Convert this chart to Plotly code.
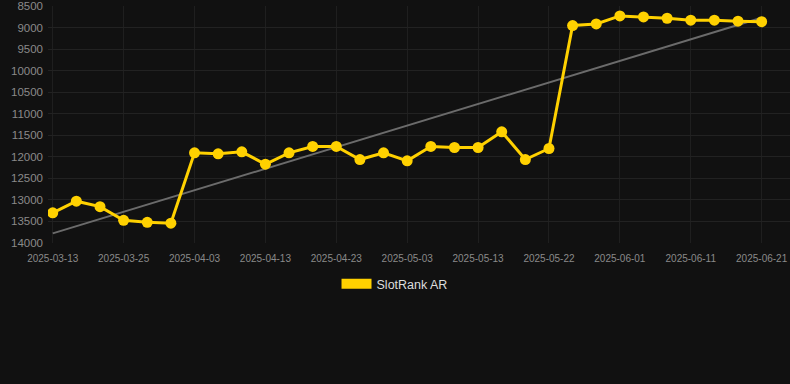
import numpy as np
import plotly.graph_objects as go

dates = ["2025-03-13", "2025-03-17", "2025-03-21", "2025-03-25", "2025-03-28", "2025-03-31",
         "2025-04-03", "2025-04-06", "2025-04-09", "2025-04-13", "2025-04-16", "2025-04-19",
         "2025-04-23", "2025-04-26", "2025-04-29", "2025-05-03", "2025-05-06", "2025-05-09",
         "2025-05-13", "2025-05-16", "2025-05-19", "2025-05-22", "2025-05-25", "2025-05-28",
         "2025-06-01", "2025-06-04", "2025-06-07", "2025-06-11", "2025-06-14", "2025-06-17",
         "2025-06-21"]
ranks = [13300, 13030, 13156, 13474, 13520, 13540,
         11907, 11930, 11884, 12172, 11907, 11760,
         11760, 12063, 11907, 12093, 11760, 11784,
         11784, 11419, 12063, 11807, 8953, 8916,
         8730, 8753, 8784, 8830, 8830, 8853,
         8865]
tick_labels = dates[::3]
y_ticks = [8500, 9000, 9500, 10000, 10500, 11000, 11500, 12000, 12500, 13000, 13500, 14000]
y_tick_text = [str(v) for v in y_ticks]

idx = np.arange(len(ranks))
slope, intercept = np.polyfit(idx, ranks, 1)
trend = slope * idx + intercept

fig = go.Figure()
fig.add_trace(go.Scatter(
    x=dates, y=trend, mode="lines",
    line=dict(color="#6b6b6b", width=2),
    showlegend=False, hoverinfo="skip"))
fig.add_trace(go.Scatter(
    x=dates, y=ranks, mode="lines+markers",
    line=dict(color="#ffd100", width=3),
    marker=dict(color="#ffd100", size=11),
    name="SlotRank AR", showlegend=False))
fig.add_trace(go.Scatter(
    x=[None], y=[None], mode="lines",
    line=dict(color="#ffd100", width=10),
    name="SlotRank AR", showlegend=True))

fig.update_layout(
    width=790, height=384,
    paper_bgcolor="#111111", plot_bgcolor="#111111",
    margin=dict(l=48, r=0, t=6, b=141, autoexpand=False),
    font=dict(family="Liberation Sans, Arial, sans-serif", color="#8a8a8a"),
    xaxis=dict(
        type="category", categoryorder="array", categoryarray=dates,
        range=[-0.2, 31.2], automargin=False, tickangle=0,
        tickmode="array", tickvals=tick_labels, ticktext=tick_labels,
        tickfont=dict(size=10, color="#8a8a8a"),
        showgrid=True, gridcolor="#1f1f1f", gridwidth=1,
        zeroline=False, showline=False, ticks="", ticklabelstandoff=8,
    ),
    yaxis=dict(
        range=[14000, 8500], automargin=False,
        tickmode="array", tickvals=y_ticks, ticktext=y_tick_text,
        tickfont=dict(size=11.5, color="#8a8a8a"),
        showgrid=True, gridcolor="#222222", gridwidth=1,
        zeroline=False, showline=False, ticks="", ticklabelstandoff=4,
    ),
    legend=dict(
        orientation="h", x=0.467, xanchor="center",
        y=-0.11, yanchor="top",
        font=dict(size=12.5, color="#dddddd"), bgcolor="rgba(0,0,0,0)",
    ),
    showlegend=True,
)

fig.write_html("out.html", config={"displayModeBar": False})
with open("out.html", "r", encoding="utf-8") as f:
    html = f.read()
html = html.replace("<head>", "<head><style>html,body{margin:0;padding:0;background:#111111;}</style>", 1)
with open("out.html", "w", encoding="utf-8") as f:
    f.write(html)
